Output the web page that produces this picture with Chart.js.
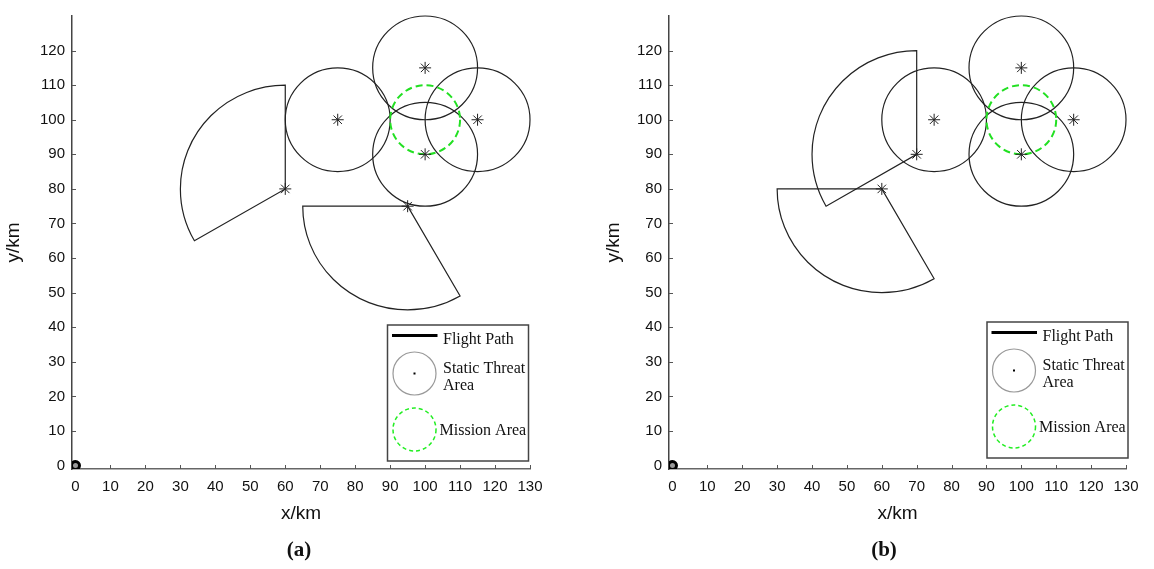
<!DOCTYPE html>
<html>
<head>
<meta charset="utf-8">
<script src="https://cdn.jsdelivr.net/npm/chart.js@4.4.1/dist/chart.umd.min.js"></script>
<style>
  body { margin: 0; background: #fff; width: 1154px; height: 569px; overflow: hidden; position: relative; }
  .panel { position: absolute; top: 0; width: 577px; height: 540px; }
  .cap { position: absolute; top: 537px; width: 80px; text-align: center; font: bold 21px 'Liberation Serif', serif; color: #111; }
</style>
</head>
<body>
<div class="panel" style="left:0"><canvas id="chartA" width="577" height="540"></canvas></div>
<div class="panel" style="left:577px"><canvas id="chartB" width="577" height="540"></canvas></div>
<div class="cap" style="left:259px">(a)</div>
<div class="cap" style="left:844px">(b)</div>
<script>
// axis ticks
const xTicks = [0, 10, 20, 30, 40, 50, 60, 70, 80, 90, 100, 110, 120, 130];
const yTicks = [0, 10, 20, 30, 40, 50, 60, 70, 80, 90, 100, 110, 120];

// static threat areas (same in both panels)
const threatX = [75, 100, 115, 100];
const threatY = [100, 115, 100, 90];
const threatR = [15, 15, 15, 15];

// mission area
const missionX = [100];
const missionY = [100];
const missionR = [10];

// sector (search fan) areas, angles in degrees
const sectorAX = [60, 95];
const sectorAY = [80, 75];
const sectorAR = [30, 30];
const sectorAFrom = [90, 180];
const sectorATo = [210, 300];

const sectorBX = [70, 60];
const sectorBY = [90, 80];
const sectorBR = [30, 30];
const sectorBFrom = [90, 180];
const sectorBTo = [210, 300];

// start point
const startX = [0];
const startY = [0];

const legendLabels = ['Flight Path', 'Static Threat', 'Area', 'Mission Area'];

const toPts = (xs, ys) => xs.map((x, i) => ({ x: x, y: ys[i] }));

function shapesPlugin(sx, sy, sr, sFrom, sTo, legendPos) {
  return {
    id: 'shapes',
    beforeDatasetsDraw(chart) {
      const ctx = chart.ctx;
      const xs = chart.scales.x, ys = chart.scales.y;
      const area = chart.chartArea;
      ctx.save();

      // inward tick marks
      ctx.strokeStyle = '#555';
      ctx.lineWidth = 1;
      ctx.beginPath();
      xTicks.forEach(v => {
        if (v === 0) return;
        const px = Math.round(xs.getPixelForValue(v)) + 0.5;
        ctx.moveTo(px, area.bottom);
        ctx.lineTo(px, area.bottom - 4);
      });
      yTicks.forEach(v => {
        if (v === 0) return;
        const py = Math.round(ys.getPixelForValue(v)) + 0.5;
        ctx.moveTo(area.left, py);
        ctx.lineTo(area.left + 4, py);
      });
      ctx.stroke();

      const ellipse = (cx, cy, r) => {
        const px = xs.getPixelForValue(cx), py = ys.getPixelForValue(cy);
        const rx = xs.getPixelForValue(cx + r) - px;
        const ry = py - ys.getPixelForValue(cy + r);
        return { px, py, rx, ry };
      };

      // threat circles
      ctx.strokeStyle = '#222';
      ctx.lineWidth = 1.2;
      threatX.forEach((cx, i) => {
        const e = ellipse(cx, threatY[i], threatR[i]);
        ctx.beginPath();
        ctx.ellipse(e.px, e.py, e.rx, e.ry, 0, 0, Math.PI * 2);
        ctx.stroke();
      });

      // sectors
      sx.forEach((cx, i) => {
        const e = ellipse(cx, sy[i], sr[i]);
        const a0 = sFrom[i] * Math.PI / 180, a1 = sTo[i] * Math.PI / 180;
        ctx.beginPath();
        ctx.moveTo(e.px, e.py);
        ctx.lineTo(e.px + e.rx * Math.cos(a0), e.py - e.ry * Math.sin(a0));
        ctx.ellipse(e.px, e.py, e.rx, e.ry, 0, -a0, -a1, true);
        ctx.closePath();
        ctx.stroke();
      });

      // mission area
      ctx.strokeStyle = '#22e022';
      ctx.lineWidth = 2;
      ctx.setLineDash([7, 4]);
      missionX.forEach((cx, i) => {
        const e = ellipse(cx, missionY[i], missionR[i]);
        ctx.beginPath();
        ctx.ellipse(e.px, e.py, e.rx, e.ry, 0, 0, Math.PI * 2);
        ctx.stroke();
      });
      ctx.restore();
    },
    afterDatasetsDraw(chart) {
      const ctx = chart.ctx;
      const area = chart.chartArea;
      const W = 141, H = 136;
      const L = area.right - legendPos.right - W;
      const T = area.bottom - legendPos.bottom - H;
      ctx.save();
      ctx.fillStyle = '#fff';
      ctx.fillRect(L, T, W, H);
      ctx.strokeStyle = '#444';
      ctx.lineWidth = 1.5;
      ctx.strokeRect(L, T, W, H);

      // flight path sample
      ctx.strokeStyle = '#000';
      ctx.lineWidth = 3;
      ctx.beginPath();
      ctx.moveTo(L + 4.5, T + 10.5);
      ctx.lineTo(L + 50, T + 10.5);
      ctx.stroke();

      // threat sample
      ctx.strokeStyle = '#999';
      ctx.lineWidth = 1.2;
      ctx.beginPath();
      ctx.arc(L + 27, T + 48.5, 21.5, 0, Math.PI * 2);
      ctx.stroke();
      ctx.fillStyle = '#000';
      ctx.fillRect(L + 26, T + 47.5, 2, 2);

      // mission sample
      ctx.strokeStyle = '#22ee22';
      ctx.lineWidth = 1.5;
      ctx.setLineDash([4, 3]);
      ctx.beginPath();
      ctx.arc(L + 27, T + 104.5, 21.5, 0, Math.PI * 2);
      ctx.stroke();
      ctx.setLineDash([]);

      ctx.fillStyle = '#111';
      ctx.font = "16px 'Liberation Serif', serif";
      ctx.textBaseline = 'alphabetic';
      ctx.textAlign = 'left';
      ctx.fillText(legendLabels[0], L + 55.5, T + 19);
      ctx.fillText(legendLabels[1], L + 55.5, T + 47.5);
      ctx.fillText(legendLabels[2], L + 55.5, T + 65);
      ctx.fillText(legendLabels[3], L + 52, T + 110);
      ctx.restore();
    }
  };
}

function buildChart(id, sx, sy, sr, sFrom, sTo, yWidth, padRight, yTitlePad, legendPos) {
  const stars = toPts(threatX.concat(sx), threatY.concat(sy));
  return new Chart(document.getElementById(id), {
    type: 'scatter',
    data: {
      datasets: [
        {
          data: stars,
          pointStyle: 'star',
          pointRadius: 6,
          borderColor: '#222',
          borderWidth: 1
        },
        {
          data: toPts(startX, startY),
          pointStyle: 'circle',
          pointRadius: 4,
          borderColor: '#000',
          borderWidth: 3,
          backgroundColor: '#999'
        }
      ]
    },
    options: {
      responsive: false,
      animation: false,
      devicePixelRatio: 1,
      layout: { padding: { top: 12, right: padRight, left: 0, bottom: 0 } },
      plugins: { legend: { display: false }, tooltip: { enabled: false } },
      scales: {
        x: {
          type: 'linear',
          min: -1,
          max: 130,
          afterBuildTicks: s => { s.ticks = xTicks.map(v => ({ value: v })); },
          afterFit: s => { s.height = 71; },
          grid: { display: false, drawTicks: false },
          border: { display: true, color: '#666', width: 1.5 },
          ticks: {
            font: { family: "'Liberation Sans', Arial, sans-serif", size: 15 },
            color: '#111', padding: 9, maxRotation: 0, autoSkip: false
          },
          title: {
            display: true, text: 'x/km', color: '#111',
            font: { family: "'Liberation Sans', Arial, sans-serif", size: 19 },
            padding: { top: 0, bottom: 14.6 }
          }
        },
        y: {
          type: 'linear',
          min: -1,
          max: 130,
          afterBuildTicks: s => { s.ticks = yTicks.map(v => ({ value: v })); },
          afterFit: s => { s.width = yWidth; },
          grid: { display: false, drawTicks: false },
          border: { display: true, color: '#444', width: 1.5 },
          ticks: {
            font: { family: "'Liberation Sans', Arial, sans-serif", size: 15 },
            color: '#111', padding: 7, autoSkip: false
          },
          title: {
            display: true, text: 'y/km', color: '#111',
            font: { family: "'Liberation Sans', Arial, sans-serif", size: 19 },
            padding: { top: yTitlePad, bottom: 0 }
          }
        }
      }
    },
    plugins: [shapesPlugin(sx, sy, sr, sFrom, sTo, legendPos)]
  });
}

buildChart('chartA', sectorAX, sectorAY, sectorAR, sectorAFrom, sectorATo, 72, 47, 2.6, { right: 1.5, bottom: 8 });
buildChart('chartB', sectorBX, sectorBY, sectorBR, sectorBFrom, sectorBTo, 92, 28, 25.6, { right: -2, bottom: 11 });
</script>
</body>
</html>
